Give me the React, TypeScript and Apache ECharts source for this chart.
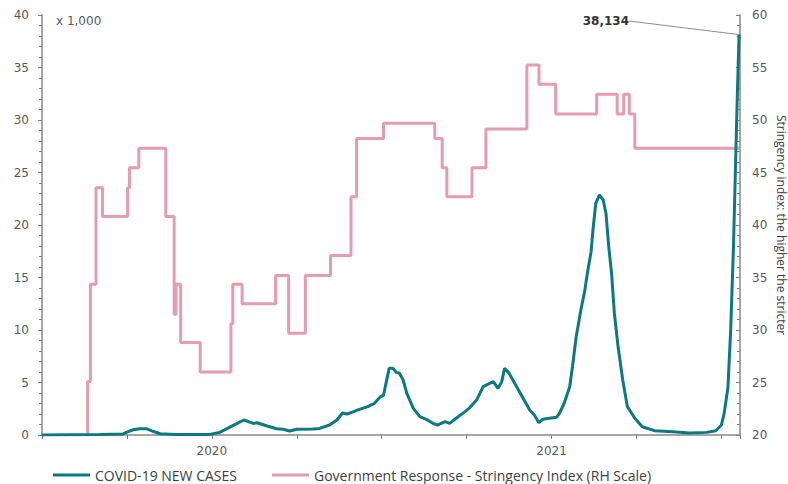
import React, { useEffect, useRef } from "react";
import * as echarts from "echarts";

// Days counted from 1 Jan 2020
const caseDays = [0, 62, 87, 92, 98, 105, 112, 118, 127, 143, 180, 191, 205, 217, 227, 231, 242, 252, 259, 266, 274, 291, 298, 309, 317, 323, 328, 334, 341, 350, 357, 363, 367, 370, 373, 377, 381, 384, 388, 392, 399, 406, 413, 420, 425, 433, 438, 445, 452, 459, 467, 474, 481, 485, 490, 494, 497, 502, 510, 517, 524, 529, 534, 538, 545, 553, 556, 561, 567, 570, 574, 579, 583, 586, 590, 592, 595, 599, 603, 606, 609, 612, 615, 619, 624, 629, 637, 645, 658, 678, 696, 714, 724, 730, 733, 737, 740, 743, 745, 747, 749];
// New cases, thousands
const casesK = [0, 0.05, 0.1, 0.3, 0.5, 0.6, 0.6, 0.4, 0.12, 0.05, 0.05, 0.25, 0.9, 1.43, 1.1, 1.17, 0.86, 0.6, 0.55, 0.38, 0.55, 0.57, 0.63, 0.95, 1.43, 2.1, 2.0, 2.2, 2.44, 2.7, 3.0, 3.6, 3.8, 5.08, 6.35, 6.35, 5.94, 5.9, 5.24, 3.97, 2.54, 1.75, 1.49, 1.11, 0.95, 1.27, 1.11, 1.59, 2.06, 2.54, 3.33, 4.6, 4.92, 5.08, 4.44, 5.08, 6.35, 5.87, 4.6, 3.49, 2.38, 1.9, 1.17, 1.49, 1.59, 1.7, 2.06, 3.0, 4.6, 6.5, 9.36, 11.9, 13.65, 15.4, 17.46, 19.5, 22.07, 22.86, 22.38, 21.1, 17.9, 15.4, 11.6, 8.4, 5.24, 2.7, 1.59, 0.79, 0.41, 0.3, 0.2, 0.25, 0.4, 0.95, 2.06, 4.5, 10, 18, 25, 32, 38.134];

// Stringency index change points (day, new level)
const stringencyDays = [48, 49, 52, 58, 65, 92, 94, 104, 133, 142, 144, 149, 170, 203, 205, 215, 251, 265, 283, 310, 332, 338, 367, 422, 430, 435, 462, 477, 521, 534, 552, 596, 618, 625, 631, 637, 749];
const stringencyIdx = [20, 25.1, 34.35, 43.55, 40.8, 43.55, 45.46, 47.3, 40.8, 31.5, 34.35, 28.8, 26.0, 30.6, 34.35, 32.5, 35.2, 29.7, 35.2, 37.1, 42.7, 48.25, 49.7, 48.25, 45.46, 42.7, 45.46, 49.14, 55.24, 53.4, 50.57, 52.45, 50.57, 52.45, 50.57, 47.3, 47.3];

const yearMidDays = [182.5, 547.5];
const yearLabels = ["2020", "2021"];
const seriesNames = ["COVID-19 NEW CASES", "Government Response - Stringency Index (RH Scale)"];
const lastLabel = "38,134";
const leftUnit = "x 1,000";
const rightAxisName = "Stringency index: the higher the stricter";

const TEAL = "#0b7a80";
const PINK = "#e59bb0";
const AXIS_GREY = "#a6a6a6";
const LABEL_GREY = "#595959";

export default function App() {
  const ref = useRef<HTMLDivElement>(null);
  useEffect(() => {
    if (!ref.current) return;
    const chart = echarts.init(ref.current, undefined, { renderer: "svg" });
    const last = caseDays.length - 1;
    const caseData = caseDays.map((d, i) =>
      i === last
        ? {
            value: [d, casesK[i]],
            label: {
              show: true,
              formatter: lastLabel,
              fontFamily: "DejaVu Sans",
              fontWeight: "bold",
              fontSize: 12,
              color: "#333333",
            },
            labelLine: { show: true, lineStyle: { color: "#8c8c8c", width: 1 } },
          }
        : [d, casesK[i]]
    );
    const strData = stringencyDays.map((d, i) => [d, stringencyIdx[i]]);
    const axisLabelFont = { fontFamily: "DejaVu Sans", fontSize: 12, color: LABEL_GREY };
    chart.setOption({
      animation: false,
      grid: {
        left: 42,
        right: 48,
        top: 15,
        bottom: 49,
        containLabel: false,
        outerBoundsMode: "none",
      },
      legend: {
        left: 48,
        top: 463,
        itemWidth: 37,
        itemHeight: 3,
        itemGap: 35,
        textStyle: { fontFamily: "Open Sans", fontSize: 14, color: "#404040" },
        data: [
          { name: seriesNames[0], icon: "rect" },
          { name: seriesNames[1], icon: "rect" },
        ],
      },
      graphic: [
        {
          type: "text",
          left: 56,
          top: 15,
          style: { text: leftUnit, fontFamily: "DejaVu Sans", fontSize: 12, fill: LABEL_GREY },
        },
      ],
      xAxis: {
        type: "value",
        min: 0,
        max: 750,
        interval: 91.25,
        axisLine: { show: true, lineStyle: { color: AXIS_GREY, width: 2 } },
        axisTick: { show: true, length: 4, lineStyle: { color: "#7f7f7f" } },
        splitLine: { show: false },
        axisLabel: {
          ...axisLabelFont,
          margin: 10,
          formatter: (v: number) => {
            for (let i = 0; i < yearMidDays.length; i++) {
              if (Math.abs(v - yearMidDays[i]) < 1) return yearLabels[i];
            }
            return "";
          },
        },
      },
      yAxis: [
        {
          type: "value",
          min: 0,
          max: 40,
          interval: 5,
          position: "left",
          axisLine: { show: true, lineStyle: { color: AXIS_GREY, width: 2 } },
          axisTick: { show: true, length: 4, lineStyle: { color: "#7f7f7f" } },
          minorTick: { show: true, splitNumber: 5, length: 3, lineStyle: { color: "#7f7f7f" } },
          splitLine: { show: false },
          axisLabel: { ...axisLabelFont, margin: 13 },
        },
        {
          type: "value",
          min: 20,
          max: 60,
          interval: 5,
          position: "right",
          name: rightAxisName,
          nameLocation: "middle",
          nameRotate: -90,
          nameGap: 35,
          nameMoveOverlap: false,
          nameTextStyle: { fontFamily: "Open Sans", fontSize: 12, color: "#404040" },
          axisLine: { show: true, lineStyle: { color: AXIS_GREY, width: 2 } },
          axisTick: { show: true, inside: true, length: 4, lineStyle: { color: "#7f7f7f" } },
          minorTick: { show: true, splitNumber: 5, length: 3, lineStyle: { color: "#7f7f7f" } },
          splitLine: { show: false },
          axisLabel: { ...axisLabelFont, margin: 12 },
        },
      ],
      series: [
        {
          name: seriesNames[0],
          type: "line",
          yAxisIndex: 0,
          data: caseData,
          showSymbol: true,
          symbol: "circle",
          symbolSize: 1,
          itemStyle: { color: TEAL },
          lineStyle: { color: TEAL, width: 3 },
          z: 3,
          labelLayout: { x: 629, y: 21, align: "right", verticalAlign: "middle" },
        },
        {
          name: seriesNames[1],
          type: "line",
          yAxisIndex: 1,
          step: "end",
          data: strData,
          showSymbol: false,
          itemStyle: { color: PINK },
          lineStyle: { color: PINK, width: 3 },
          z: 2,
        },
      ],
    });
    return () => chart.dispose();
  }, []);
  return (
    <div
      ref={ref}
      style={{ position: "fixed", left: 0, top: 0, width: 788, height: 484, background: "#fff" }}
    />
  );
}
